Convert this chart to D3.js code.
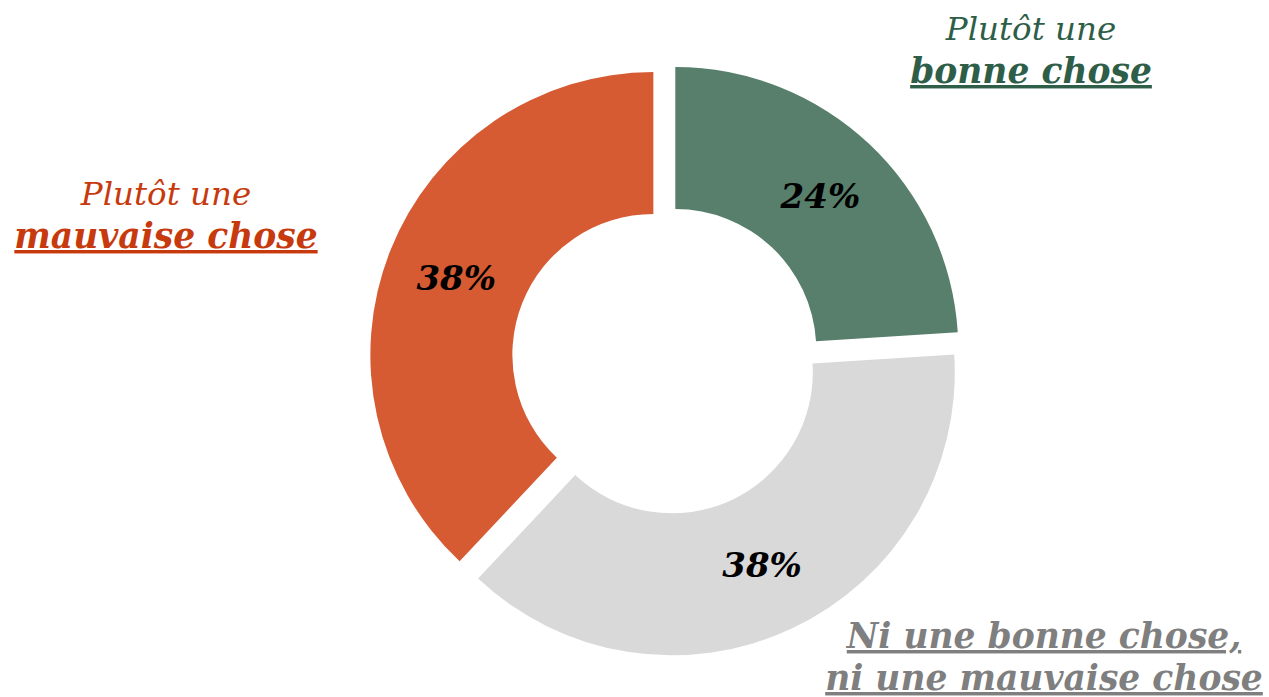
<!DOCTYPE html>
<html>
<head>
<meta charset="utf-8">
<script src="https://cdn.jsdelivr.net/npm/d3@7"></script>
<style>
  body { margin: 0; background: #fff; }
  svg text { font-family: "DejaVu Serif", Georgia, serif; font-style: italic; }
  .pct { font-weight: bold; font-size: 34px; fill: #000; }
  .cat text { font-size: 32.5px; }
  .cat text.em { font-size: 34.5px; font-weight: bold; text-decoration: underline; }
</style>
</head>
<body>
<svg id="donut" width="1269" height="697"></svg>
<script>
// data
const categories = ['Plutôt une bonne chose', 'Ni une bonne chose, ni une mauvaise chose', 'Plutôt une mauvaise chose'];
const values = [24, 38, 38];
const sliceColors = ['#577f6b', '#d9d9d9', '#d65b33'];
const textColors = ['#2e5e48', '#7f7f7f', '#c73a0e'];

const width = 1269;
const height = 697;
const cx = 666, cy = 360;
const outer = 283;
const inner = 141;
const explode = 13.6;

const svg = d3.select('#donut');

const pie = d3.pie()
    .value(d => d)
    .sort(null)
    .startAngle(0)
    .endAngle(2 * Math.PI);

const arc = d3.arc()
    .innerRadius(inner)
    .outerRadius(outer);

const chart = svg.append('g')
    .attr('transform', `translate(${cx}, ${cy})`);

// slices, pushed out along their mid angle
const slices = chart.selectAll('g.slice')
    .data(pie(values))
    .enter()
    .append('g')
    .attr('class', 'slice')
    .attr('transform', d => {
        const a = (d.startAngle + d.endAngle) / 2;
        return `translate(${explode * Math.sin(a)}, ${-explode * Math.cos(a)})`;
    });

slices.append('path')
    .attr('d', arc)
    .attr('fill', (d, i) => sliceColors[i]);

slices.append('text')
    .attr('class', 'pct')
    .attr('x', d => arc.centroid(d)[0])
    .attr('y', d => arc.centroid(d)[1])
    .attr('dy', '0.38em')
    .attr('text-anchor', 'middle')
    .text(d => d.value + '%');

// category labels
const labels = [
    { x: 1031, lines: [['Plutôt une', false, 40], ['bonne chose', true, 83]] },
    { x: 1044, lines: [['Ni une bonne chose,', true, 648], ['ni une mauvaise chose', true, 690]] },
    { x: 166, lines: [['Plutôt une', false, 205], ['mauvaise chose', true, 248]] }
];

labels.forEach((l, i) => {
    const t = svg.append('g')
        .attr('class', 'cat')
        .attr('fill', textColors[i]);
    l.lines.forEach(([txt, em, y]) => {
        t.append('text')
            .attr('class', em ? 'em' : null)
            .attr('x', l.x)
            .attr('y', y)
            .attr('text-anchor', 'middle')
            .text(txt);
    });
});
</script>
</body>
</html>
